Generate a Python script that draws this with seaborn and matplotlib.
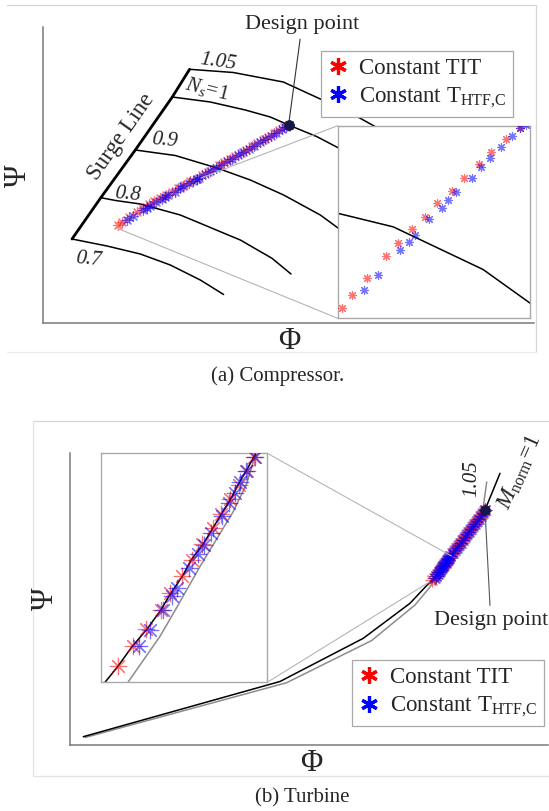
import matplotlib
matplotlib.use("Agg")
import matplotlib.pyplot as plt
import seaborn as sns
from matplotlib.lines import Line2D
from matplotlib.patches import ConnectionPatch

# ------------------------------------------------------------------
# (a) Compressor map: flow coefficient Phi vs head coefficient Psi
# ------------------------------------------------------------------
comp_surge_phi = [0.0287, 0.0575, 0.092, 0.129, 0.1463]
comp_surge_psi = [0.84, 1.253, 1.73, 2.26, 2.537]

comp_n070_phi = [0.0287, 0.0637, 0.097, 0.127, 0.157, 0.1803]
comp_n070_psi = [0.84, 0.77, 0.69, 0.58, 0.43, 0.285]
comp_n080_phi = [0.0575, 0.0723, 0.097, 0.137, 0.157, 0.177, 0.197, 0.2287, 0.2477]
comp_n080_psi = [1.253, 1.225, 1.19, 1.08, 0.997, 0.913, 0.83, 0.647, 0.49]
comp_n090_phi = [0.092, 0.132, 0.1737, 0.207, 0.2403, 0.277, 0.2947, 0.317]
comp_n090_psi = [1.73, 1.675, 1.55, 1.43, 1.28, 1.08, 0.95, 0.81]
comp_n100_phi = [0.129, 0.167, 0.202, 0.227, 0.2453, 0.2737, 0.2947, 0.317]
comp_n100_psi = [2.26, 2.21, 2.13, 2.06, 1.98, 1.863, 1.753, 1.63]
comp_n105_phi = [0.1463, 0.19, 0.24, 0.277, 0.302, 0.329, 0.347]
comp_n105_psi = [2.537, 2.505, 2.41, 2.24, 2.13, 1.98, 1.88]

comp_tit_phi = [0.0743, 0.0788, 0.0855, 0.0936, 0.0992, 0.1053, 0.1111, 0.1167,
                0.1231, 0.1286, 0.1351, 0.1406, 0.1471, 0.1533, 0.159, 0.165,
                0.170, 0.176, 0.181, 0.187, 0.192, 0.198, 0.203, 0.209, 0.214,
                0.220, 0.225, 0.231, 0.236, 0.241, 0.2453]
comp_tit_psi = [0.980, 1.014, 1.058, 1.115, 1.149, 1.185, 1.216, 1.251,
                1.283, 1.315, 1.351, 1.382, 1.416, 1.444, 1.477, 1.512,
                1.541, 1.576, 1.605, 1.640, 1.669, 1.704, 1.733, 1.768, 1.798,
                1.833, 1.862, 1.896, 1.926, 1.955, 1.980]
comp_htf_phi = [0.0841, 0.0901, 0.1000, 0.1040, 0.1067, 0.1130, 0.1188, 0.1212,
                0.1249, 0.1319, 0.1363, 0.1400, 0.1452, 0.1501, 0.1533, 0.156,
                0.162, 0.167, 0.173, 0.178, 0.184, 0.189, 0.195, 0.200, 0.206,
                0.211, 0.217, 0.222, 0.228, 0.233, 0.239, 0.243, 0.2453]
comp_htf_psi = [1.026, 1.066, 1.129, 1.150, 1.169, 1.210, 1.238, 1.259,
                1.281, 1.315, 1.345, 1.368, 1.397, 1.424, 1.444, 1.452,
                1.487, 1.516, 1.551, 1.580, 1.615, 1.644, 1.679, 1.708, 1.743,
                1.772, 1.807, 1.836, 1.871, 1.900, 1.935, 1.958, 1.980]
comp_design = (0.2453, 1.980)
comp_zoom_phi = (0.0723, 0.1579)
comp_zoom_psi = (0.954, 1.451)

# ------------------------------------------------------------------
# (b) Turbine map
# ------------------------------------------------------------------
turb_m100_phi = [0.0133, 0.21, 0.2933, 0.34, 0.3601, 0.3618, 0.3636, 0.3656,
                 0.3674, 0.3687, 0.3703, 0.3715, 0.3731, 0.3743, 0.3755, 0.3766,
                 0.3777, 0.3787, 0.3797, 0.38, 0.39, 0.40, 0.408, 0.415, 0.43]
turb_m100_psi = [0.083, 0.635, 1.067, 1.417, 1.6313, 1.6494, 1.6709, 1.691,
                 1.7122, 1.7309, 1.7512, 1.7699, 1.7882, 1.8052, 1.8221, 1.8372,
                 1.8553, 1.87, 1.8855, 1.8903, 2.02, 2.155, 2.26, 2.35, 2.717]
turb_m105_phi = [0.015, 0.2167, 0.3017, 0.345, 0.36, 0.3631, 0.3673, 0.3691,
                 0.3726, 0.377, 0.3788, 0.3797, 0.3801, 0.39, 0.40, 0.409,
                 0.4133, 0.4167]
turb_m105_psi = [0.075, 0.623, 1.045, 1.40, 1.58, 1.631, 1.6826, 1.709,
                 1.7618, 1.824, 1.8561, 1.8824, 1.89, 2.015, 2.15, 2.29,
                 2.383, 2.63]

turb_tit_phi = [0.3618, 0.3637, 0.3655, 0.3674, 0.3687, 0.3702, 0.3715, 0.3729,
                0.3743, 0.3754, 0.3766, 0.3777, 0.3788, 0.3797, 0.382, 0.384,
                0.386, 0.388, 0.390, 0.392, 0.394, 0.396, 0.398, 0.400, 0.402,
                0.404, 0.406, 0.408, 0.410, 0.412, 0.414, 0.415]
turb_tit_psi = [1.6497, 1.6721, 1.691, 1.7128, 1.7318, 1.7515, 1.7691, 1.7878,
                1.8057, 1.8208, 1.8381, 1.8545, 1.8703, 1.8855, 1.916, 1.942,
                1.968, 1.994, 2.020, 2.047, 2.074, 2.101, 2.128, 2.155, 2.181,
                2.207, 2.234, 2.260, 2.286, 2.311, 2.337, 2.350]
turb_htf_phi = [0.3646, 0.366, 0.3677, 0.3689, 0.3696, 0.3712, 0.3723, 0.3732,
                0.374, 0.3755, 0.3764, 0.3772, 0.3779, 0.3787, 0.3799, 0.383,
                0.385, 0.387, 0.389, 0.391, 0.393, 0.395, 0.397, 0.399, 0.401,
                0.403, 0.405, 0.407, 0.409, 0.411, 0.413, 0.415]
turb_htf_psi = [1.6721, 1.6898, 1.7124, 1.7283, 1.7371, 1.7608, 1.7759, 1.7863,
                1.7995, 1.8187, 1.8335, 1.8451, 1.857, 1.8702, 1.8853, 1.921,
                1.947, 1.973, 1.999, 2.025, 2.052, 2.079, 2.106, 2.133, 2.160,
                2.186, 2.213, 2.239, 2.265, 2.291, 2.316, 2.350]
turb_design = (0.415, 2.35)
turb_zoom_phi = (0.3595, 0.3815)
turb_zoom_psi = (1.631, 1.89)

legend_labels = ["Constant TIT", r"Constant T$_{\mathrm{HTF{,}C}}$"]

# ------------------------------------------------------------------
sns.set_style("white")
plt.rcParams["font.family"] = ["Liberation Serif", "DejaVu Serif"]
plt.rcParams["mathtext.fontset"] = "custom"
plt.rcParams["mathtext.rm"] = "Liberation Serif"
plt.rcParams["mathtext.it"] = "Liberation Serif:italic"
plt.rcParams["mathtext.bf"] = "Liberation Serif:bold"

W, H = 549, 811
fig = plt.figure(figsize=(W / 100, H / 100), dpi=100)
fig.patch.set_facecolor("white")


def fx(x):
    return x / W


def fy(y):
    return 1 - y / H


def box(left, top, right, bottom):
    return [fx(left), fy(bottom), (right - left) / W, (bottom - top) / H]


def frame_line(x0, y0, x1, y1, color="#d6d6d6"):
    fig.add_artist(Line2D([fx(x0), fx(x1)], [fy(y0), fy(y1)],
                          transform=fig.transFigure, color=color, lw=0.9))


def style_main(ax):
    ax.patch.set_alpha(0)
    for s in ("top", "right"):
        ax.spines[s].set_visible(False)
    for s in ("left", "bottom"):
        ax.spines[s].set_color("#7a7a7a")
        ax.spines[s].set_linewidth(1.1)
    ax.set_xticks([])
    ax.set_yticks([])
    ax.set_xlabel("")
    ax.set_ylabel("")


def style_inset(ax):
    ax.set_facecolor("white")
    for s in ax.spines.values():
        s.set_visible(True)
        s.set_color("#a9a9a9")
        s.set_linewidth(1.0)
    ax.set_xticks([])
    ax.set_yticks([])
    ax.set_xlabel("")
    ax.set_ylabel("")


def line(ax, x, y, color="black", lw=1.1, z=2):
    sns.lineplot(x=x, y=y, ax=ax, color=color, lw=lw, sort=False,
                 estimator=None, legend=False, zorder=z)


def stars(ax, x, y, color, s, lw=0.85, alpha=0.55):
    sns.scatterplot(x=x, y=y, ax=ax, marker=(8, 2, 0), s=s, color=color,
                    linewidth=lw, alpha=alpha, legend=False, zorder=3)


def design_dot(ax, pt, s=50):
    sns.scatterplot(x=[pt[0]], y=[pt[1]], ax=ax, marker="o", s=s,
                    color="#16164a", edgecolor="#16164a", legend=False, zorder=5)


def add_legend(ax, left, top):
    handles = [Line2D([], [], ls="none", marker=(6, 2, 0), ms=12, mew=2.3, color="red"),
               Line2D([], [], ls="none", marker=(6, 2, 0), ms=12, mew=2.3, color="blue")]
    leg = ax.legend(handles, legend_labels, loc="upper left",
                    bbox_to_anchor=(fx(left), fy(top)), bbox_transform=fig.transFigure,
                    frameon=True, fancybox=False, edgecolor="#a8a8a8", framealpha=1,
                    fontsize=16.5, borderpad=0.3, handlelength=0.9, handletextpad=0.45,
                    labelspacing=0.32, borderaxespad=0)
    leg.get_frame().set_linewidth(0.9)
    return leg


def connect(ax_in, corner, ax_main, pt):
    fig.add_artist(ConnectionPatch(xyA=corner, coordsA=ax_in.transAxes,
                                   xyB=pt, coordsB=ax_main.transData,
                                   color="#b5b5b5", lw=0.8))


# ---------------------------- (a) Compressor ----------------------------
frame_line(7, 4.5, 536, 4.5)
frame_line(536, 4.5, 536, 352)
frame_line(7, 352, 536, 352, color="#ececec")

comp_speed = [(comp_n070_phi, comp_n070_psi), (comp_n080_phi, comp_n080_psi),
              (comp_n090_phi, comp_n090_psi), (comp_n100_phi, comp_n100_psi),
              (comp_n105_phi, comp_n105_psi)]


def draw_compressor(ax, s):
    for ph, ps in comp_speed:
        line(ax, ph, ps)
    line(ax, comp_surge_phi, comp_surge_psi, lw=2.0)
    stars(ax, comp_tit_phi, comp_tit_psi, "red", s)
    stars(ax, comp_htf_phi, comp_htf_psi, "blue", s)


axc = fig.add_axes(box(43.3, 26.7, 534, 322.7))
draw_compressor(axc, 50)
design_dot(axc, comp_design)
axc.set_xlim(0, 0.4907)
axc.set_ylim(0.003, 2.963)
style_main(axc)

ital = dict(fontsize=15, style="italic", ha="center", va="center")
axc.text(0.175, 2.61, "1.05", rotation=-8, **ital)
axc.text(0.164, 2.34, r"$\mathit{N_s\!=\!1}$", rotation=-14, fontsize=15, ha="center", va="center")
axc.text(0.121, 1.82, "0.9", rotation=-5, **ital)
axc.text(0.0845, 1.28, "0.8", rotation=-5, **ital)
axc.text(0.045, 0.63, "0.7", rotation=-5, **ital)
axc.text(0.078, 1.86, "Surge Line", rotation=55, fontsize=16.5, ha="center", va="center",
         rotation_mode="anchor")
axc.annotate("Design point", xy=comp_design, xytext=(0.2587, 2.98), fontsize=16,
             ha="center", va="center", annotation_clip=False,
             arrowprops=dict(arrowstyle="-", color="#333333", lw=0.8, shrinkA=1, shrinkB=0))
add_legend(axc, 321, 50.7)

axci = fig.add_axes(box(337.7, 125.7, 530, 318.3))
draw_compressor(axci, 32)
axci.set_xlim(*comp_zoom_phi)
axci.set_ylim(*comp_zoom_psi)
style_inset(axci)
connect(axci, (0, 1), axc, (comp_zoom_phi[1], comp_zoom_psi[1]))
connect(axci, (0, 0), axc, (comp_zoom_phi[0], comp_zoom_psi[0]))

fig.text(fx(18), fy(176), "Ψ", fontsize=22, rotation=90, ha="center", va="center")
fig.text(fx(288.8), fy(341.7), "Φ", fontsize=22, ha="center", va="center")
fig.text(fx(277.5), fy(376), "(a) Compressor.", fontsize=15, ha="center", va="center")

# ----------------------------- (b) Turbine ------------------------------
frame_line(32.7, 420.7, 560, 420.7)
frame_line(32.7, 420.7, 32.7, 775.7, color="#e3e3e3")
frame_line(32.7, 775.7, 560, 775.7, color="#e3e3e3")


def draw_turbine(ax, s):
    line(ax, turb_m105_phi, turb_m105_psi, color="#8c8c8c")
    line(ax, turb_m100_phi, turb_m100_psi, color="black")
    stars(ax, turb_tit_phi, turb_tit_psi, "red", s)
    stars(ax, turb_htf_phi, turb_htf_psi, "blue", s)


axt = fig.add_axes(box(70.3, 453.3, 548, 745.3))
draw_turbine(axt, 85)
design_dot(axt, turb_design)
axt.set_xlim(0.0003, 0.478)
axt.set_ylim(-0.003, 2.917)
style_main(axt)

axt.text(0.4017, 2.667, "1.05", rotation=90, **ital)
axt.text(0.45, 2.73, r"$\mathit{M}_{\mathrm{norm}}\!=\!\mathit{1}$", rotation=66, fontsize=16.5,
         ha="center", va="center")
axt.annotate("Design point", xy=turb_design, xytext=(0.4208, 1.24), fontsize=16,
             ha="center", va="center", annotation_clip=False,
             arrowprops=dict(arrowstyle="-", color="#555555", lw=0.8, shrinkA=2, shrinkB=0))
add_legend(axt, 352.3, 660)

axti = fig.add_axes(box(100.7, 453.3, 267.3, 682.3))
draw_turbine(axti, 140)
axti.set_xlim(*turb_zoom_phi)
axti.set_ylim(*turb_zoom_psi)
style_inset(axti)
connect(axti, (1, 1), axt, (turb_zoom_phi[1], turb_zoom_psi[1]))
connect(axti, (1, 0), axt, (turb_zoom_phi[0], turb_zoom_psi[0]))

fig.text(fx(45), fy(599), "Ψ", fontsize=22, rotation=90, ha="center", va="center")
fig.text(fx(311.7), fy(763.3), "Φ", fontsize=22, ha="center", va="center")
fig.text(fx(302.5), fy(798.3), "(b) Turbine", fontsize=15, ha="center", va="center")

fig.savefig("out.png", dpi=100)
